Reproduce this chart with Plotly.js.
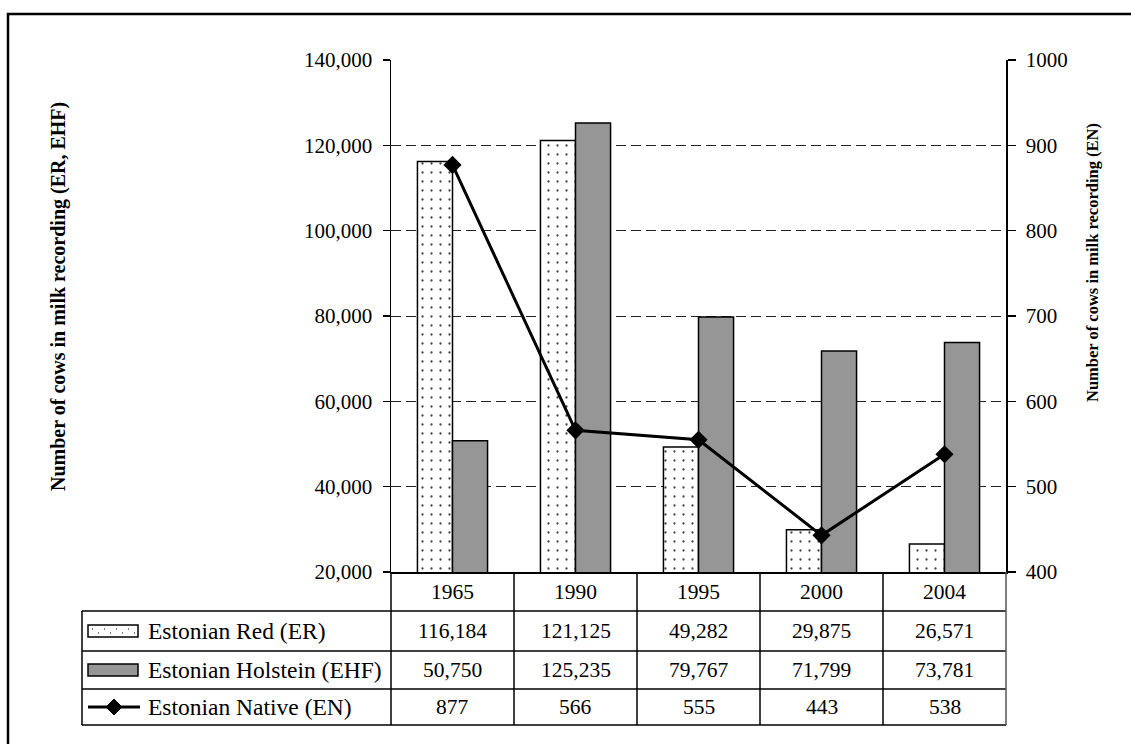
<!DOCTYPE html>
<html>
<head>
<meta charset="utf-8">
<script src="https://cdn.plot.ly/plotly-3.0.1.min.js"></script>
<style>
  html, body { margin: 0; padding: 0; background: #fff; }
  #chart { width: 1131px; height: 744px; }
</style>
</head>
<body>
<div id="chart"></div>
<script>
// Milk-recorded cows by breed
const categories = ['1965', '1990', '1995', '2000', '2004'];
const erValues = [116184, 121125, 49282, 29875, 26571];
const ehfValues = [50750, 125235, 79767, 71799, 73781];
const enValues = [877, 566, 555, 443, 538];
const seriesNames = ['Estonian Red (ER)', 'Estonian Holstein (EHF)', 'Estonian Native (EN)'];
const leftTitle = 'Number of cows in milk recording (ER, EHF)';
const rightTitle = 'Number of cows in milk recording (EN)';

const W = 1131, H = 744;
const M = { l: 391, r: 125, t: 60, b: 172 };
const plotW = W - M.l - M.r;
const plotH = H - M.t - M.b;
const FONT = "'Liberation Serif', 'Times New Roman', serif";

// pixel -> paper helpers for the data table drawn under the plot
const px = v => (v - M.l) / plotW;
const py = v => (H - M.b - v) / plotH;

const fmt = v => v.toLocaleString('en-US');

const traces = [
  {
    type: 'bar', name: seriesNames[0], x: categories, y: erValues,
    marker: {
      color: 'white',
      line: { color: 'black', width: 1.5 },
      pattern: { shape: '.', fgcolor: '#444', bgcolor: 'white', size: 9, solidity: 0.05 }
    },
    hoverinfo: 'skip'
  },
  {
    type: 'bar', name: seriesNames[1], x: categories, y: ehfValues,
    marker: { color: '#969696', line: { color: 'black', width: 1.5 } },
    hoverinfo: 'skip'
  },
  {
    type: 'scatter', mode: 'lines+markers', name: seriesNames[2],
    x: categories, y: enValues, yaxis: 'y2',
    line: { color: 'black', width: 3 },
    marker: { symbol: 'diamond', size: 14, color: 'black' },
    cliponaxis: false,
    hoverinfo: 'skip'
  }
];

// Data table geometry (pixels)
const tableLeft = 82, axisLeft = 391, tableRight = 1006;
const rowEdges = [572, 611, 651, 689, 725];
const rowMid = i => (rowEdges[i] + rowEdges[i + 1]) / 2;
const colW = plotW / categories.length;

const shapes = [];
const annotations = [];
const line = (x0, y0, x1, y1, color, width) => shapes.push({
  type: 'line', xref: 'paper', yref: 'paper',
  x0: px(x0), y0: py(y0), x1: px(x1), y1: py(y1),
  line: { color: color || 'black', width: width || 1.5 }
});

// outer chart frame
shapes.push({
  type: 'rect', xref: 'paper', yref: 'paper',
  x0: px(8), y0: py(14), x1: px(1145), y1: py(760),
  line: { color: 'black', width: 2.5 }, fillcolor: 'rgba(0,0,0,0)'
});

// horizontal table rules
for (let i = 1; i < rowEdges.length; i++) line(tableLeft, rowEdges[i], tableRight, rowEdges[i]);
// vertical table rules
line(tableLeft, rowEdges[1], tableLeft, rowEdges[4]);
line(axisLeft, rowEdges[0], axisLeft, rowEdges[4]);
for (let k = 1; k < categories.length; k++) {
  const xx = axisLeft + k * colW;
  line(xx, rowEdges[0], xx, rowEdges[4]);
}
line(tableRight, rowEdges[0], tableRight, rowEdges[4], '#555');

// legend keys
const keyX0 = 88, keyX1 = 138;
shapes.push({
  type: 'rect', xref: 'paper', yref: 'paper',
  x0: px(keyX0), x1: px(keyX1), y0: py(rowMid(1) - 6), y1: py(rowMid(1) + 6),
  fillcolor: 'white', line: { color: 'black', width: 1.5 }
});
shapes.push({
  type: 'line', xref: 'paper', yref: 'paper',
  x0: px(keyX0 + 4), x1: px(keyX1 - 2), y0: py(rowMid(1) - 2), y1: py(rowMid(1) - 2),
  line: { color: '#555', width: 1.5, dash: '1px,11px' }
});
shapes.push({
  type: 'line', xref: 'paper', yref: 'paper',
  x0: px(keyX0 + 10), x1: px(keyX1 - 2), y0: py(rowMid(1) + 2), y1: py(rowMid(1) + 2),
  line: { color: '#555', width: 1.5, dash: '1px,11px' }
});
shapes.push({
  type: 'rect', xref: 'paper', yref: 'paper',
  x0: px(keyX0), x1: px(keyX1), y0: py(rowMid(2) - 6), y1: py(rowMid(2) + 6),
  fillcolor: '#969696', line: { color: 'black', width: 1.5 }
});
line(keyX0, rowMid(3), keyX1 + 2, rowMid(3), 'black', 3);
{
  const cx = (keyX0 + keyX1 + 2) / 2, cy = rowMid(3), r = 8;
  shapes.push({
    type: 'path', xref: 'paper', yref: 'paper',
    path: `M${px(cx)},${py(cy - r)} L${px(cx + r)},${py(cy)} L${px(cx)},${py(cy + r)} L${px(cx - r)},${py(cy)} Z`,
    fillcolor: 'black', line: { color: 'black', width: 1 }
  });
}

const labelFont = { family: FONT, size: 23.5, color: 'black' };
const numFont = { family: FONT, size: 21.5, color: 'black' };
const cell = (text, xPix, yPix, anchor, font) => annotations.push({
  text, xref: 'paper', yref: 'paper', x: px(xPix), y: py(yPix),
  xanchor: anchor || 'center', yanchor: 'middle', showarrow: false, font: font || numFont
});

// row labels
seriesNames.forEach((n, i) => cell(n, 146, rowMid(i + 1), 'left', labelFont));
// year header and values
const rows = [categories, erValues.map(fmt), ehfValues.map(fmt), enValues.map(String)];
rows.forEach((vals, r) => vals.forEach((v, k) => cell(v, axisLeft + (k + 0.5) * colW, rowMid(r))));

// axis titles
annotations.push({
  text: '<b>' + leftTitle + '</b>', xref: 'paper', yref: 'paper',
  x: px(58), y: py(297), xanchor: 'center', yanchor: 'middle', textangle: -90,
  showarrow: false, font: { family: FONT, size: 20, color: 'black' }
});
annotations.push({
  text: '<b>' + rightTitle + '</b>', xref: 'paper', yref: 'paper',
  x: px(1092), y: py(263), xanchor: 'center', yanchor: 'middle', textangle: -90,
  showarrow: false, font: { family: FONT, size: 16.5, color: 'black' }
});

const tickFont = { family: FONT, size: 21, color: 'black' };
const layout = {
  width: W, height: H, margin: M,
  paper_bgcolor: 'white', plot_bgcolor: 'white',
  font: { family: FONT, color: 'black' },
  showlegend: false,
  barmode: 'group', bargap: 0.43, bargroupgap: 0,
  xaxis: {
    type: 'category', range: [-0.5, categories.length - 0.5],
    showticklabels: false, ticks: '', showgrid: false, zeroline: false,
    showline: true, linecolor: 'black', linewidth: 2
  },
  yaxis: {
    range: [20000, 140000], tick0: 20000, dtick: 20000, tickformat: ',',
    showgrid: true, gridcolor: '#222', gridwidth: 1, griddash: '10px,5px',
    zeroline: false, showline: true, linecolor: 'black', linewidth: 1.5,
    ticks: 'outside', ticklen: 7, tickcolor: 'black', tickwidth: 1.5,
    ticklabelstandoff: 6, tickfont: tickFont
  },
  yaxis2: {
    overlaying: 'y', side: 'right',
    range: [400, 1000], tick0: 400, dtick: 100,
    showgrid: false, zeroline: false,
    showline: true, linecolor: 'black', linewidth: 1.5,
    ticks: 'outside', ticklen: 8, tickcolor: 'black', tickwidth: 1.5,
    ticklabelstandoff: 6, tickfont: tickFont
  },
  shapes, annotations
};

Plotly.newPlot('chart', traces, layout, { staticPlot: true, displayModeBar: false });
</script>
</body>
</html>
